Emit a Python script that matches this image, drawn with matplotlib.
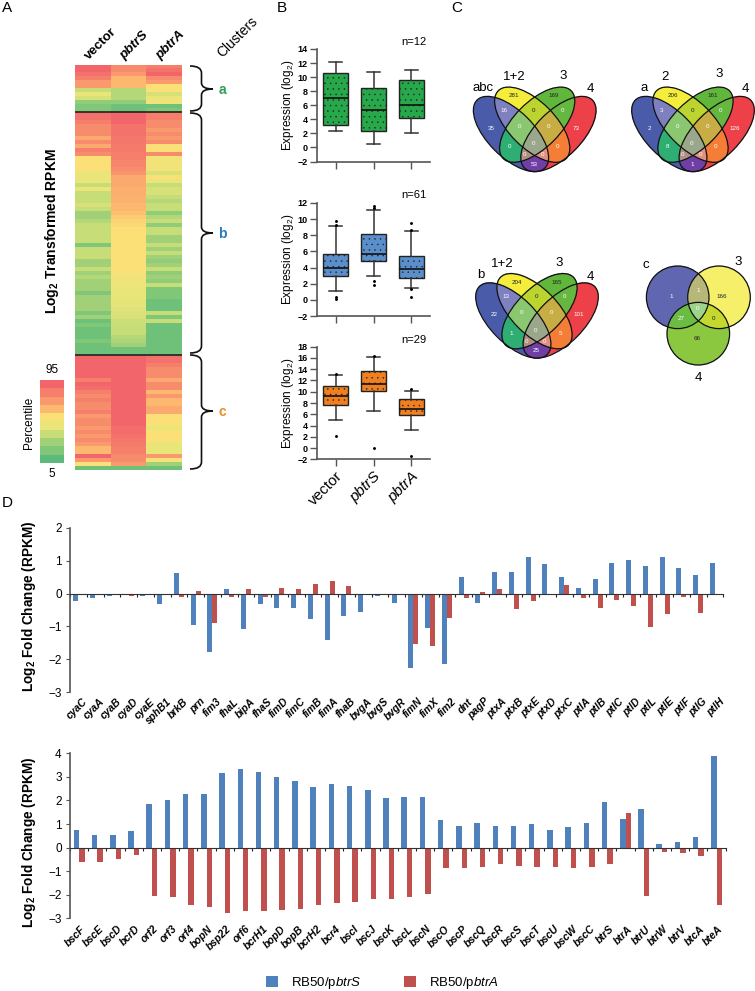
import numpy as np
import matplotlib
matplotlib.use("Agg")
import matplotlib.pyplot as plt
from matplotlib.colors import LinearSegmentedColormap, to_rgb
from matplotlib.patches import Ellipse, Circle, PathPatch
from matplotlib.path import Path

plt.rcParams['font.family'] = ['Liberation Sans', 'DejaVu Sans']
plt.rcParams['mathtext.fontset'] = 'custom'
plt.rcParams['mathtext.rm'] = 'Liberation Sans'
plt.rcParams['mathtext.it'] = 'Liberation Sans:italic'
plt.rcParams['mathtext.bf'] = 'Liberation Sans:bold'
plt.rcParams['mathtext.default'] = 'regular'
plt.rcParams['hatch.linewidth'] = 0.3

W, H = 755, 991

# heatmap values, percentile level 0 (5th) to 9 (95th)
a_vector = [9, 9, 8.5, 8, 7, 7, 3, 4, 3.5, 1.5, 1, 1]
a_pbtrS = [7.5, 7.5, 7, 6, 6, 6, 2.5, 2.5, 2.5, 1.5, 0.5, 0.5]
a_pbtrA = [8, 8.5, 9, 7.5, 7, 5, 5, 3.5, 4, 4.5, 0.5, 1]
b_vector = [8.5, 8.5, 8, 7.5, 7.5, 7.5, 6.5, 7.5, 6.5, 8, 7.5,
            5, 5, 5, 5, 4, 4, 4, 3, 4,
            3, 3, 3, 3.5, 3, 2, 2, 2.5,
            3, 3, 3, 3, 3, 1,
            3, 3, 3, 2, 2, 3,
            2, 2.5, 2, 2, 2,
            1, 2, 2, 2, 2, 1, 2,
            0.5, 1, 0.5, 0.5, 0.5, 1, 0.5, 0.5, 0.5]
b_pbtrS = [9.5, 9.5, 9, 8.5, 8.5, 8.5, 8.3, 8.3, 8.2, 8.2, 8, 8, 7.8, 7.8, 7.5, 7.2,
           6.5, 6.5, 6.5, 6.3, 6.3, 6.2, 6.2, 6, 6, 5.8,
           5.5, 5.3, 5.2, 5, 5, 5, 5, 5, 5, 5, 5, 5, 5, 5,
           4.7, 4.5, 4.3, 4.2, 4, 4, 4, 3.9, 3.8, 3.7, 3.6, 3.5,
           3.2, 3, 3, 3, 2.5, 2.3, 2, 0.5, 0.5]
b_pbtrA = [8, 8, 7.5, 7.5, 7, 7.5, 7, 7.5, 5, 5, 7.5,
           4.5, 4.5, 4.5, 4.5, 3.5, 5, 4, 3, 3.5, 3.5,
           3, 2.5, 3, 3, 1.5, 2.5, 3, 1.5, 3, 3,
           2, 2, 3, 2, 3, 2, 1.5, 2, 3,
           1.5, 2, 1.5, 3, 1, 1, 1, 0.5, 0.5, 0.5, 3, 1, 3,
           0.5, 0.5, 0.5, 0.5, 0.5, 0.5, 0.5, 0.5]
c_vector = [9.5, 9.5, 9.5, 9.5, 9.5, 9.5, 8, 9, 8.7, 8, 7.5, 8, 7.5, 7.5, 8,
            7, 7.5, 7.5, 7, 7.5, 7, 7.5, 7, 6, 6, 9.5, 7, 5, 0.5]
c_pbtrS = [9.5] * 15 + [9, 9, 9, 8.7, 8.7, 8.5, 8.3, 8.2, 8, 8, 7.5, 7.5, 7, 0.5]
c_pbtrA = [8.5, 8.5, 8, 7.5, 7.5, 7.5, 6.5, 7.5, 7.5, 6, 7, 6, 6, 6.5, 6.5,
           5, 5, 5, 4, 5, 5, 5, 4, 4, 4, 7, 4.5, 2, 0.5]
heat_columns = ['vector', 'pbtrS', 'pbtrA']
heat_colors = ['#5dba7a', '#82c878', '#a2d178', '#c6dd78', '#eae67a',
               '#fbe178', '#fdb870', '#fa9a6e', '#f6806c', '#f2666b']

# box plot panels: whislo, q1, median, q3, whishi, fliers
box_labels = ['vector', 'pbtrS', 'pbtrA']
box_a = [(2.37, 3.2, 7, 10.55, 12.2, []),
         (0.45, 2.4, 5.3, 8.4, 10.75, []),
         (2, 4.15, 6, 9.6, 11, [])]
box_b = [(1.05, 2.9, 4, 5.7, 9.2, [0.15, 0.3, 9.3, 9.8]),
         (3, 4.76, 5.7, 8.2, 11.1, [1.9, 2.3, 11.4, 11.6]),
         (1.45, 2.7, 3.8, 5.4, 8.5, [0.35, 1.3, 8.6, 9.5])]
box_c = [(4.9, 7.7, 9.2, 11.1, 12.9, [2.1, 13.1]),
         (6.5, 10.05, 11.3, 13.6, 16.15, [0, 16.3]),
         (3.25, 5.9, 7, 8.75, 10.2, [-1.4, 10.4])]

# venn counts by region
venn_abc = dict(B=35, BY=16, Y=281, YG=0, G=169, GR=0, R=73, BYG=0, YGR=0, BG=0, YR=0, BYGR=0, BGR=0, BYR=0, BR=53)
venn_a = dict(B=2, BY=3, Y=206, YG=0, G=161, GR=0, R=126, BYG=0, YGR=0, BG=8, YR=0, BYGR=0, BGR=0, BYR=0, BR=1)
venn_b = dict(B=22, BY=13, Y=204, YG=0, G=165, GR=0, R=101, BYG=0, YGR=0, BG=1, YR=5, BYGR=0, BGR=0, BYR=0, BR=25)
venn_c = dict(B=1, Y=166, G=66, BY=1, BG=27, YG=0, BYG=0)

# fold change bars
genes_top = ['cyaC', 'cyaA', 'cyaB', 'cyaD', 'cyaE', 'sphB1', 'brkB', 'prn', 'fim3', 'fhaL', 'bipA',
             'fhaS', 'fimD', 'fimC', 'fimB', 'fimA', 'fhaB', 'bvgA', 'bvgS', 'bvgR', 'fimN', 'fimX',
             'fim2', 'dnt', 'pagP', 'ptxA', 'ptxB', 'ptxE', 'ptxD', 'ptxC', 'ptlA', 'ptlB', 'ptlC',
             'ptlD', 'ptlL', 'ptlE', 'ptlF', 'ptlG', 'ptlH']
top_btrS = [-0.22, -0.14, -0.08, -0.04, -0.06, -0.33, 0.63, -0.95, -1.77, 0.15, -1.09,
            -0.31, -0.45, -0.43, -0.77, -1.42, -0.67, -0.55, -0.06, -0.3, -2.27, -1.04,
            -2.14, 0.5, -0.3, 0.64, 0.66, 1.12, 0.9, 0.49, 0.18, 0.45, 0.92,
            1.03, 0.84, 1.12, 0.77, 0.55, 0.92]
top_btrA = [-0.04, 0, 0, -0.08, 0, -0.04, -0.09, 0.07, -0.88, -0.12, 0.14,
            -0.1, 0.17, 0.15, 0.29, 0.38, 0.23, -0.04, 0, 0, -1.54, -1.58,
            -0.75, -0.13, 0.05, 0.13, -0.46, -0.24, 0, 0.25, -0.15, -0.45, -0.21,
            -0.39, -1.01, -0.62, -0.1, -0.58, 0]
genes_bot = ['bscF', 'bscE', 'bscD', 'bcrD', 'orf2', 'orf3', 'orf4', 'bopN', 'bsp22', 'orf6', 'bcrH1',
             'bopD', 'bopB', 'bcrH2', 'bcr4', 'bscI', 'bscJ', 'bscK', 'bscL', 'bscN', 'bscO', 'bscP',
             'bscQ', 'bscR', 'bscS', 'bscT', 'bscU', 'bscW', 'bscC', 'btrS', 'btrA', 'btrU', 'btrW',
             'btrV', 'btcA', 'bteA']
bot_btrS = [0.75, 0.53, 0.52, 0.72, 1.84, 2.0, 2.27, 2.26, 3.18, 3.33, 3.2,
            2.98, 2.84, 2.55, 2.68, 2.63, 2.43, 2.12, 2.13, 2.13, 1.17, 0.93,
            1.03, 0.9, 0.92, 1.0, 0.75, 0.88, 1.03, 1.95, 1.22, 1.63, 0.14,
            0.25, 0.45, 3.88]
bot_btrA = [-0.6, -0.6, -0.5, -0.32, -2.07, -2.08, -2.45, -2.54, -2.76, -2.71, -2.68,
            -2.66, -2.6, -2.42, -2.36, -2.32, -2.16, -2.16, -2.08, -1.96, -0.87, -0.85,
            -0.84, -0.71, -0.8, -0.81, -0.82, -0.88, -0.81, -0.69, 1.46, -2.07, -0.2,
            -0.25, -0.34, -2.42]

BLUE = '#4f81bd'
RED = '#c0504d'
AXC = '#555555'


def px_axes(x0, y0, x1, y1):
    # axes from picture pixels, y counted from the top
    return fig.add_axes([x0 / W, 1 - y1 / H, (x1 - x0) / W, (y1 - y0) / H])


fig = plt.figure(figsize=(W / 100, H / 100), dpi=100)
over = fig.add_axes([0, 0, 1, 1], zorder=5)
over.patch.set_alpha(0)
over.axis('off')

# --- panel A
cmap = LinearSegmentedColormap.from_list('pct', heat_colors)
heat = np.array([a_vector + b_vector + c_vector,
                 a_pbtrS + b_pbtrS + c_pbtrS,
                 a_pbtrA + b_pbtrA + c_pbtrA]).T
ax = px_axes(75, 64.5, 182, 470)
ax.imshow(heat, cmap=cmap, vmin=0, vmax=9, aspect='auto', interpolation='nearest')
ax.hlines([len(a_vector) - 0.5, len(a_vector) + len(b_vector) - 0.5], -0.5, 2.5, color='#222222', lw=1.2)
ax.axis('off')

ax = px_axes(40, 380.5, 64, 463.5)
ax.imshow(np.arange(9, -1, -1).reshape(-1, 1), cmap=cmap, vmin=0, vmax=9, aspect='auto', interpolation='nearest')
ax.axis('off')

for name, x in zip(heat_columns, [91, 126, 162]):
    over.text(x, 62, name, rotation=45, rotation_mode='anchor', ha='left', va='bottom',
              fontsize=9.5, fontweight='bold', style='normal' if name == 'vector' else 'italic')
over.text(224, 60, 'Clusters', rotation=45, rotation_mode='anchor', ha='left', va='bottom', fontsize=10)
over.text(52, 231, 'Log$_2$ Transformed RPKM', rotation=90, ha='center', va='center', fontsize=10, fontweight='bold')
over.text(29, 423, 'Percentile', rotation=90, ha='center', va='center', fontsize=8.5)
over.text(52, 370, '95', ha='center', va='center', fontsize=8.5)
over.text(52, 474, '5', ha='center', va='center', fontsize=8.5)


def brace(y0, y1, ym):
    x0, xm, tip = 190, 201.5, 213
    verts = [(x0, y0), (xm, y0), (xm, y0 + 7), (xm, ym - 6), (xm, ym), (tip, ym),
             (xm, ym), (xm, ym + 6), (xm, y1 - 7), (xm, y1), (x0, y1)]
    codes = [Path.MOVETO, Path.CURVE3, Path.CURVE3, Path.LINETO, Path.CURVE3, Path.CURVE3,
             Path.CURVE3, Path.CURVE3, Path.LINETO, Path.CURVE3, Path.CURVE3]
    over.add_patch(PathPatch(Path(verts, codes), fc='none', ec='#111111', lw=1.2))


brace(66, 111, 89)
brace(113, 353, 233)
brace(355, 469, 411)
over.text(222, 90, 'a', color='#2e9e5b', fontsize=10, fontweight='bold', ha='center', va='center')
over.text(222, 234, 'b', color='#2b7bba', fontsize=10, fontweight='bold', ha='center', va='center')
over.text(222, 412, 'c', color='#f08a24', fontsize=10, fontweight='bold', ha='center', va='center')

for letter, x, y in [('A', 2, 8), ('B', 277, 8), ('C', 451, 8), ('D', 2, 503)]:
    over.text(x, y, letter, fontsize=11, ha='left', va='center')


# --- panel B
def box_panel(y0, y1, stats, ylim, step, color, note, note_y, show_labels=False):
    ax = px_axes(317, y0, 430, y1)
    rows = [dict(whislo=s[0], q1=s[1], med=s[2], q3=s[3], whishi=s[4], fliers=s[5], label=n)
            for s, n in zip(stats, box_labels)]
    ax.bxp(rows, widths=0.66, capwidths=0.35, patch_artist=True,
           boxprops=dict(facecolor=color, edgecolor='#222222', hatch='...', lw=1),
           medianprops=dict(color='#111111', lw=1.2),
           whiskerprops=dict(color='#333333', lw=1.1), capprops=dict(color='#333333', lw=1.1),
           flierprops=dict(marker='o', ms=1.1, mfc='black', mec='black'))
    ax.set_xlim(0.5, 3.5)
    ax.set_ylim(*ylim)
    ax.set_yticks(np.arange(ylim[0], ylim[1] + 1, step))
    ax.spines[['top', 'right']].set_visible(False)
    ax.spines[['left', 'bottom']].set_color(AXC)
    ax.spines[['left', 'bottom']].set_linewidth(1.2)
    ax.tick_params(axis='y', labelsize=6.5, length=5, width=1, color=AXC, pad=1.5)
    ax.tick_params(axis='x', length=5, width=1, color=AXC, pad=2)
    for t in ax.get_yticklabels():
        t.set_fontweight('bold')
    ax.patch.set_alpha(0)
    if show_labels:
        ax.set_xticklabels(box_labels, rotation=45, ha='right', rotation_mode='anchor',
                           fontsize=11, style='italic')
        ax.get_xticklabels()[0].set_style('normal')
    else:
        ax.set_xticklabels([])
    over.text(288, (y0 + y1) / 2, 'Expression (log$_2$)', rotation=90, ha='center', va='center', fontsize=8.5)
    over.text(414, note_y, note, ha='center', va='center', fontsize=8)


box_panel(49, 161.5, box_a, (-2, 14), 2, '#27a84a', 'n=12', 42)
box_panel(203, 316, box_b, (-2, 12), 2, '#5b8fcb', 'n=61', 195)
box_panel(346.7, 459.3, box_c, (-2, 18), 2, '#f07f20', 'n=29', 340, show_labels=True)

# --- panel C
venn4_colors = dict(B='#4a5bab', Y='#f5ee3c', G='#62b83c', R='#ed4048', BY='#7f80c0', YG='#bdd52f',
                    GR='#66b840', BG='#2fae74', YR='#f47f35', BR='#6f3fa5', BYG='#8ac870', YGR='#c9ad45',
                    BGR='#b09080', BYR='#e09080', BYGR='#9aa88a')
venn4_pos = dict(B=(-43.3, -5.7), BY=(-31, -24), Y=(-20.3, -38.3), YG=(-0.7, -24), G=(19.3, -38.3),
                 GR=(27.7, -24), R=(41.3, -5.7), BYG=(-15.7, -8), YGR=(14, -8), BG=(-25.3, 13),
                 YR=(23, 13), BYGR=(-1, 9.7), BGR=(-10.3, 21), BYR=(7.7, 21), BR=(-0.7, 30))
venn4_shapes = [('B', -23.7, 0, 45), ('Y', -2.5, -9.3, 45), ('G', 2.5, -9.3, -45), ('R', 23.7, 0, -45)]
venn3_colors = dict(B='#6066b0', Y='#f5f06a', G='#8cc840', BY='#b8b87a', BG='#6cbc44', YG='#c5d82e', BYG='#9ed38c')
venn3_pos = dict(B=(671, 297), Y=(722, 297), G=(697.5, 338), BY=(698, 291), BG=(681, 318), YG=(713.5, 318),
                 BYG=(697.5, 309))


def paint_regions(masks, colors, x0, x1, y0, y1, xs):
    img = np.zeros(xs.shape + (4,))
    for key, c in colors.items():
        region = np.ones(xs.shape, bool)
        for name, m in masks.items():
            region &= m if name in key else ~m
        img[region] = to_rgb(c) + (1,)
    over.imshow(img, extent=(x0, x1, y1, y0), aspect='auto', interpolation='antialiased', zorder=1)


def venn4(cx, cy, counts):
    x0, x1, y0, y1 = cx - 70, cx + 70, cy - 55, cy + 45
    xs, ys = np.meshgrid(np.arange(x0, x1, 0.25) + 0.125, np.arange(y0, y1, 0.25) + 0.125)
    masks = {}
    for name, dx, dy, ang in venn4_shapes:
        t = np.radians(ang)
        px, py = xs - (cx + dx), ys - (cy + dy)
        u = px * np.cos(t) + py * np.sin(t)
        v = -px * np.sin(t) + py * np.cos(t)
        masks[name] = (u / 48) ** 2 + (v / 23) ** 2 <= 1
        over.add_patch(Ellipse((cx + dx, cy + dy), 96, 46, angle=ang, fc='none', ec='#111111', lw=0.9, zorder=2))
    paint_regions(masks, venn4_colors, x0, x1, y0, y1, xs)
    for key, val in counts.items():
        dx, dy = venn4_pos[key]
        col = '#222222' if key in ('Y', 'YG', 'G') else 'white'
        over.text(cx + dx, cy + dy, str(val), fontsize=4.5, color=col, ha='center', va='center', zorder=3)


def venn3(counts):
    circles = dict(B=(677.7, 297.3), Y=(719, 297.3), G=(698.3, 333.7))
    x0, x1, y0, y1 = 640, 756, 260, 372
    xs, ys = np.meshgrid(np.arange(x0, x1, 0.25) + 0.125, np.arange(y0, y1, 0.25) + 0.125)
    masks = {}
    for name, (a, b) in circles.items():
        masks[name] = (xs - a) ** 2 + (ys - b) ** 2 <= 31.3 ** 2
        over.add_patch(Circle((a, b), 31.3, fc='none', ec='#111111', lw=0.9, zorder=2))
    paint_regions(masks, venn3_colors, x0, x1, y0, y1, xs)
    for key, val in counts.items():
        col = '#222222' if key in ('Y', 'G', 'YG') else 'white'
        over.text(*venn3_pos[key], str(val), fontsize=4.5, color=col, ha='center', va='center', zorder=3)


venn4(534.7, 134, venn_abc)
venn4(693, 134, venn_a)
venn4(537, 320.5, venn_b)
venn3(venn_c)
over.set_xlim(0, W)
over.set_ylim(H, 0)

venn_titles = [('abc', 482.7, 88), ('1+2', 514.7, 77), ('3', 563, 76), ('4', 590, 89),
               ('a', 643.7, 88), ('2', 665, 77), ('3', 719, 74), ('4', 745.7, 89),
               ('b', 480.3, 275), ('1+2', 502, 264), ('3', 559, 262.7), ('4', 590.7, 277),
               ('c', 646, 265.3), ('3', 738.3, 261.7), ('4', 698.7, 377.7)]
for txt, x, y in venn_titles:
    over.text(x, y, txt, fontsize=9.5, ha='center', va='center')


# --- panel D
def bar_panel(x0, x1, y0, y1, genes, v1, v2, ylim, label_dx, label_dy, label_mid):
    ax = px_axes(x0, y0, x1, y1)
    pos = np.arange(len(genes))
    b1 = ax.bar(pos - 0.15, v1, 0.3, color=BLUE)
    b2 = ax.bar(pos + 0.15, v2, 0.3, color=RED)
    ax.set_xlim(-0.5, len(genes) - 0.5)
    ax.set_ylim(*ylim)
    ax.set_yticks(np.arange(ylim[0], ylim[1] + 1))
    ax.spines[['top', 'right']].set_visible(False)
    ax.spines['left'].set_color(AXC)
    ax.spines['left'].set_linewidth(1.2)
    ax.spines['bottom'].set_position(('data', 0))
    ax.spines['bottom'].set_color('#333333')
    ax.set_xticks(np.arange(-0.5, len(genes)))
    ax.set_xticklabels([])
    ax.tick_params(axis='x', length=2, width=0.8, color='#222222')
    ax.tick_params(axis='y', labelsize=8.5, length=3, color=AXC, pad=3)
    ax.patch.set_alpha(0)
    for p, g in zip(pos, genes):
        ax.annotate(g, xy=(p, 0), xycoords=ax.get_xaxis_transform(), xytext=(label_dx, label_dy),
                    textcoords='offset points', rotation=45, rotation_mode='anchor',
                    ha='right', va='top', fontsize=7.5, fontweight='bold', style='italic')
    over.text(29, label_mid, 'Log$_2$ Fold Change (RPKM)', rotation=90,
              ha='center', va='center', fontsize=9.8, fontweight='bold')
    return b1, b2


bar_panel(70, 723.3, 527.7, 692.3, genes_top, top_btrS, top_btrA, (-3, 2), 3, -3, 606)
b1, b2 = bar_panel(70, 725.7, 753.3, 918.3, genes_bot, bot_btrS, bot_btrA, (-3, 4), 1, -4, 842)

fig.legend([b1, b2], ['RB50/p$\\mathit{btrS}$', 'RB50/p$\\mathit{btrA}$'], ncol=2, frameon=False,
           loc='center', bbox_to_anchor=(382.5 / W, 1 - 983 / H), fontsize=9.5,
           handlelength=0.9, handleheight=0.9, handletextpad=1.0, columnspacing=3.2)

fig.savefig('out.png', dpi=100)
